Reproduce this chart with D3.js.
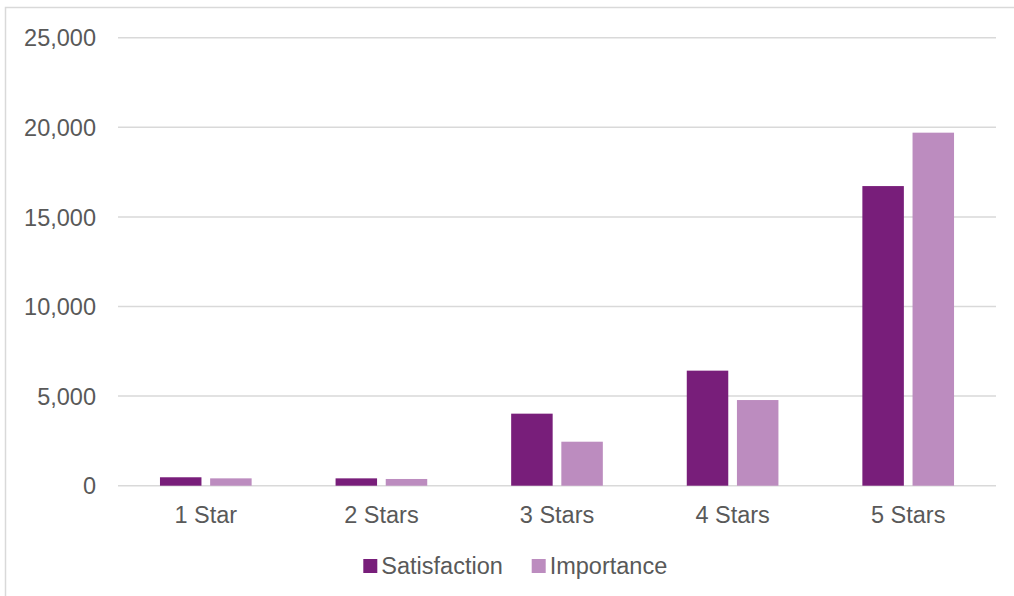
<!DOCTYPE html>
<html>
<head>
<meta charset="utf-8">
<script src="https://cdn.jsdelivr.net/npm/d3@7"></script>
<style>
	body { margin: 0; background: #fff; }
	text { font-family: "Liberation Sans", Arial, sans-serif; fill: #595959; }
</style>
</head>
<body>
<div id="chart"></div>
<script>
// data
var categories = ["1 Star", "2 Stars", "3 Stars", "4 Stars", "5 Stars"];
var seriesNames = ["Satisfaction", "Importance"];
var satisfaction = [470, 410, 4020, 6420, 16720];
var importance = [410, 375, 2455, 4780, 19700];
var yTicks = [0, 5000, 10000, 15000, 20000, 25000];

var colors = ["#781E7A", "#BC8CBF"];

var size = { width: 1014, height: 596 };
var plot = { left: 118, right: 996, top: 37.7, bottom: 485.7 };

var svg = d3.select("#chart").append("svg")
	.attr("width", size.width)
	.attr("height", size.height);

// chart border
svg.append("rect")
	.attr("x", 5.5)
	.attr("y", 7.5)
	.attr("width", 1020)
	.attr("height", 600)
	.attr("fill", "none")
	.attr("stroke", "#D9D9D9")
	.attr("stroke-width", 1.5);

var y = d3.scaleLinear()
	.domain([0, 25000])
	.range([plot.bottom, plot.top]);

var x0 = d3.scaleBand()
	.domain(categories)
	.range([plot.left, plot.right])
	.paddingInner(0.478)
	.paddingOuter(0.239);

var x1 = d3.scaleBand()
	.domain(seriesNames)
	.range([0, x0.bandwidth()])
	.paddingInner(0.173);

// gridlines
svg.append("g")
	.selectAll("line")
	.data(yTicks)
	.enter()
	.append("line")
	.attr("x1", plot.left)
	.attr("x2", plot.right)
	.attr("y1", function(d) { return y(d); })
	.attr("y2", function(d) { return y(d); })
	.attr("stroke", "#D9D9D9")
	.attr("stroke-width", 1.5);

// y axis labels
var yAxis = d3.axisLeft(y)
	.tickValues(yTicks)
	.tickFormat(d3.format(","))
	.tickSize(0)
	.tickPadding(22);

var yg = svg.append("g")
	.attr("transform", "translate(" + plot.left + ",0)")
	.call(yAxis);
yg.select(".domain").remove();
yg.selectAll("text")
	.style("font-size", "23.5px")
	.style("fill", "#595959")
	.attr("dy", "0.35em");

// x axis labels
var xAxis = d3.axisBottom(x0).tickSize(0).tickPadding(0);
var xg = svg.append("g")
	.attr("transform", "translate(0," + plot.bottom + ")")
	.call(xAxis);
xg.select(".domain").remove();
xg.selectAll("text")
	.style("font-size", "23.5px")
	.style("fill", "#595959")
	.attr("y", 37)
	.attr("dy", 0);

// bars
var rows = categories.map(function(c, i) {
	return { cat: c, values: [satisfaction[i], importance[i]] };
});

var groups = svg.append("g")
	.selectAll("g")
	.data(rows)
	.enter()
	.append("g")
	.attr("transform", function(d) { return "translate(" + x0(d.cat) + ",0)"; });

groups.selectAll("rect")
	.data(function(d) {
		return d.values.map(function(v, j) { return { name: seriesNames[j], value: v, idx: j }; });
	})
	.enter()
	.append("rect")
	.attr("x", function(d) { return x1(d.name); })
	.attr("y", function(d) { return y(d.value); })
	.attr("width", x1.bandwidth())
	.attr("height", function(d) { return plot.bottom - y(d.value); })
	.attr("fill", function(d) { return colors[d.idx]; });

// legend
var legendItems = [
	{ name: seriesNames[0], x: 363.3 },
	{ name: seriesNames[1], x: 531.7 }
];
var legend = svg.append("g");
legendItems.forEach(function(item, i) {
	var g = legend.append("g")
		.attr("transform", "translate(" + item.x + ",559)");
	g.append("rect")
		.attr("width", 14)
		.attr("height", 14)
		.attr("fill", colors[i]);
	g.append("text")
		.attr("x", 18)
		.attr("y", 15)
		.style("font-size", "23.5px")
		.text(item.name);
});
</script>
</body>
</html>
